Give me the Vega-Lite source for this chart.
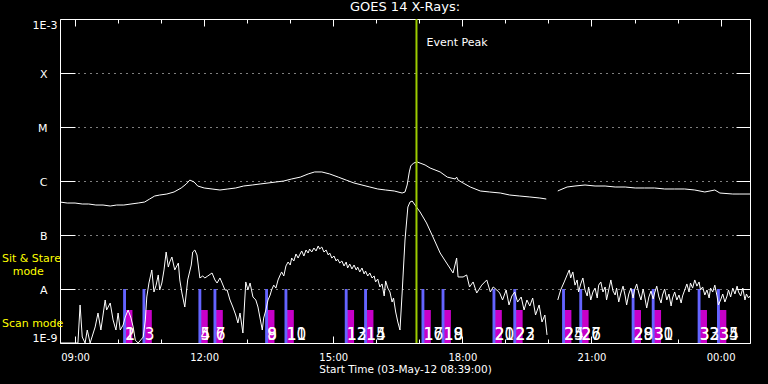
{
"$schema": "https://vega.github.io/schema/vega-lite/v6.json",
"width": 690, "height": 324,
"autosize": "none",
"padding": {"left": 60, "top": 19, "right": 18, "bottom": 41},
"background": "black",
"title": {"text": "GOES 14 X-Rays:", "color": "white", "fontSize": 13, "fontWeight": "normal", "font": "DejaVu Sans", "offset": 4, "anchor": "middle", "frame": "group"},
"config": {"view": {"stroke": null}, "axis": {"domainColor": "white", "tickColor": "white", "labelColor": "white", "titleColor": "white", "gridColor": "white", "labelFont": "DejaVu Sans", "titleFont": "DejaVu Sans", "titleFontWeight": "normal", "domainWidth": 1, "tickWidth": 1}},
"datasets": {
"long": [
{"t":"2012-05-03T08:39Z","f":4.08e-7},{"t":"2012-05-03T08:49Z","f":3.91e-7},{"t":"2012-05-03T09:00Z","f":3.91e-7},{"t":"2012-05-03T09:10Z","f":3.75e-7},{"t":"2012-05-03T09:19Z","f":3.75e-7},{"t":"2012-05-03T09:29Z","f":3.59e-7},{"t":"2012-05-03T09:39Z","f":3.59e-7},{"t":"2012-05-03T09:49Z","f":3.44e-7},{"t":"2012-05-03T09:58Z","f":3.59e-7},{"t":"2012-05-03T10:08Z","f":3.59e-7},{"t":"2012-05-03T10:18Z","f":3.75e-7},{"t":"2012-05-03T10:28Z","f":3.91e-7},{"t":"2012-05-03T10:37Z","f":4.08e-7},{"t":"2012-05-03T10:44Z","f":4.64e-7},{"t":"2012-05-03T10:51Z","f":5.27e-7},{"t":"2012-05-03T10:58Z","f":5.50e-7},{"t":"2012-05-03T11:08Z","f":5.74e-7},{"t":"2012-05-03T11:18Z","f":6.26e-7},{"t":"2012-05-03T11:28Z","f":7.42e-7},{"t":"2012-05-03T11:35Z","f":8.80e-7},{"t":"2012-05-03T11:40Z","f":1.04e-6},{"t":"2012-05-03T11:46Z","f":9.58e-7},{"t":"2012-05-03T11:51Z","f":8.08e-7},{"t":"2012-05-03T12:00Z","f":7.42e-7},{"t":"2012-05-03T12:11Z","f":7.11e-7},{"t":"2012-05-03T12:22Z","f":6.81e-7},{"t":"2012-05-03T12:33Z","f":7.11e-7},{"t":"2012-05-03T12:44Z","f":7.42e-7},{"t":"2012-05-03T12:55Z","f":8.08e-7},{"t":"2012-05-03T13:07Z","f":8.43e-7},{"t":"2012-05-03T13:18Z","f":8.80e-7},{"t":"2012-05-03T13:29Z","f":9.18e-7},{"t":"2012-05-03T13:40Z","f":9.58e-7},{"t":"2012-05-03T13:51Z","f":1.0e-6},{"t":"2012-05-03T14:02Z","f":1.09e-6},{"t":"2012-05-03T14:14Z","f":1.18e-6},{"t":"2012-05-03T14:25Z","f":1.35e-6},{"t":"2012-05-03T14:34Z","f":1.47e-6},{"t":"2012-05-03T14:44Z","f":1.47e-6},{"t":"2012-05-03T14:55Z","f":1.35e-6},{"t":"2012-05-03T15:07Z","f":1.18e-6},{"t":"2012-05-03T15:18Z","f":1.04e-6},{"t":"2012-05-03T15:29Z","f":9.18e-7},{"t":"2012-05-03T15:40Z","f":8.43e-7},{"t":"2012-05-03T15:51Z","f":7.74e-7},{"t":"2012-05-03T16:02Z","f":7.11e-7},{"t":"2012-05-03T16:13Z","f":6.81e-7},{"t":"2012-05-03T16:25Z","f":6.53e-7},{"t":"2012-05-03T16:36Z","f":5.99e-7},{"t":"2012-05-03T16:40Z","f":6.26e-7},{"t":"2012-05-03T16:43Z","f":8.43e-7},{"t":"2012-05-03T16:46Z","f":1.47e-6},{"t":"2012-05-03T16:48Z","f":1.90e-6},{"t":"2012-05-03T16:52Z","f":2.15e-6},{"t":"2012-05-03T16:57Z","f":2.25e-6},{"t":"2012-05-03T17:01Z","f":2.15e-6},{"t":"2012-05-03T17:08Z","f":1.98e-6},{"t":"2012-05-03T17:15Z","f":1.74e-6},{"t":"2012-05-03T17:29Z","f":1.47e-6},{"t":"2012-05-03T17:39Z","f":1.18e-6},{"t":"2012-05-03T17:50Z","f":1.09e-6},{"t":"2012-05-03T17:52Z","f":1.18e-6},{"t":"2012-05-03T17:54Z","f":1.04e-6},{"t":"2012-05-03T18:01Z","f":9.18e-7},{"t":"2012-05-03T18:11Z","f":7.74e-7},{"t":"2012-05-03T18:25Z","f":6.53e-7},{"t":"2012-05-03T18:38Z","f":6.26e-7},{"t":"2012-05-03T18:53Z","f":5.99e-7},{"t":"2012-05-03T19:06Z","f":5.50e-7},{"t":"2012-05-03T19:20Z","f":5.27e-7},{"t":"2012-05-03T19:34Z","f":5.06e-7},{"t":"2012-05-03T19:48Z","f":4.84e-7},{"t":"2012-05-03T19:57Z","f":4.64e-7},{"t":"2012-05-03T20:05Z","f":null},{"t":"2012-05-03T20:13Z","f":6.53e-7},{"t":"2012-05-03T20:16Z","f":6.81e-7},{"t":"2012-05-03T20:26Z","f":7.74e-7},{"t":"2012-05-03T20:37Z","f":8.08e-7},{"t":"2012-05-03T20:51Z","f":8.43e-7},{"t":"2012-05-03T21:05Z","f":8.08e-7},{"t":"2012-05-03T21:19Z","f":8.08e-7},{"t":"2012-05-03T21:33Z","f":7.74e-7},{"t":"2012-05-03T21:47Z","f":7.74e-7},{"t":"2012-05-03T22:01Z","f":7.42e-7},{"t":"2012-05-03T22:14Z","f":7.42e-7},{"t":"2012-05-03T22:28Z","f":7.42e-7},{"t":"2012-05-03T22:42Z","f":7.11e-7},{"t":"2012-05-03T22:56Z","f":7.11e-7},{"t":"2012-05-03T23:10Z","f":7.11e-7},{"t":"2012-05-03T23:24Z","f":6.81e-7},{"t":"2012-05-03T23:38Z","f":6.26e-7},{"t":"2012-05-03T23:52Z","f":6.81e-7},{"t":"2012-05-03T23:59Z","f":5.99e-7},{"t":"2012-05-04T00:17Z","f":5.74e-7},{"t":"2012-05-04T00:27Z","f":5.74e-7},{"t":"2012-05-04T00:41Z","f":5.74e-7}
],
"short": [
{"t":"2012-05-03T08:39Z","f":1e-9},{"t":"2012-05-03T09:00Z","f":1e-9},{"t":"2012-05-03T09:04Z","f":1e-9},{"t":"2012-05-03T09:07Z","f":5.06e-9},{"t":"2012-05-03T09:10Z","f":1.29e-9},{"t":"2012-05-03T09:14Z","f":1e-9},{"t":"2012-05-03T09:17Z","f":1.74e-9},{"t":"2012-05-03T09:21Z","f":1e-9},{"t":"2012-05-03T09:28Z","f":1.98e-9},{"t":"2012-05-03T09:32Z","f":3.59e-9},{"t":"2012-05-03T09:36Z","f":1.74e-9},{"t":"2012-05-03T09:42Z","f":6.26e-9},{"t":"2012-05-03T09:44Z","f":4.08e-9},{"t":"2012-05-03T09:49Z","f":5.50e-9},{"t":"2012-05-03T09:53Z","f":2.67e-9},{"t":"2012-05-03T09:57Z","f":1.74e-9},{"t":"2012-05-03T10:00Z","f":3.59e-9},{"t":"2012-05-03T10:03Z","f":1.74e-9},{"t":"2012-05-03T10:07Z","f":2.15e-9},{"t":"2012-05-03T10:10Z","f":3.03e-9},{"t":"2012-05-03T10:14Z","f":4.08e-9},{"t":"2012-05-03T10:18Z","f":2.90e-9},{"t":"2012-05-03T10:21Z","f":1.98e-9},{"t":"2012-05-03T10:24Z","f":1.13e-9},{"t":"2012-05-03T10:28Z","f":1e-9},{"t":"2012-05-03T10:35Z","f":1.29e-9},{"t":"2012-05-03T10:38Z","f":2.67e-9},{"t":"2012-05-03T10:40Z","f":7.11e-9},{"t":"2012-05-03T10:43Z","f":1.29e-8},{"t":"2012-05-03T10:47Z","f":2.25e-8},{"t":"2012-05-03T10:50Z","f":8.80e-9},{"t":"2012-05-03T10:53Z","f":1.18e-8},{"t":"2012-05-03T10:56Z","f":1.82e-8},{"t":"2012-05-03T10:58Z","f":9.58e-9},{"t":"2012-05-03T11:01Z","f":1.29e-8},{"t":"2012-05-03T11:04Z","f":2.25e-8},{"t":"2012-05-03T11:07Z","f":4.84e-8},{"t":"2012-05-03T11:10Z","f":2.55e-8},{"t":"2012-05-03T11:12Z","f":3.16e-8},{"t":"2012-05-03T11:15Z","f":3.91e-8},{"t":"2012-05-03T11:19Z","f":2.25e-8},{"t":"2012-05-03T11:24Z","f":3.03e-8},{"t":"2012-05-03T11:26Z","f":1.47e-8},{"t":"2012-05-03T11:29Z","f":8.43e-9},{"t":"2012-05-03T11:33Z","f":4.64e-9},{"t":"2012-05-03T11:37Z","f":1.47e-8},{"t":"2012-05-03T11:42Z","f":2.78e-8},{"t":"2012-05-03T11:44Z","f":4.84e-8},{"t":"2012-05-03T11:47Z","f":5.27e-8},{"t":"2012-05-03T11:50Z","f":4.26e-8},{"t":"2012-05-03T11:54Z","f":1.60e-8},{"t":"2012-05-03T11:58Z","f":1.74e-8},{"t":"2012-05-03T12:01Z","f":1.60e-8},{"t":"2012-05-03T12:05Z","f":1.74e-8},{"t":"2012-05-03T12:11Z","f":1.98e-8},{"t":"2012-05-03T12:15Z","f":1.47e-8},{"t":"2012-05-03T12:18Z","f":1.29e-8},{"t":"2012-05-03T12:22Z","f":1.60e-8},{"t":"2012-05-03T12:25Z","f":1.29e-8},{"t":"2012-05-03T12:29Z","f":9.58e-9},{"t":"2012-05-03T12:32Z","f":9.58e-9},{"t":"2012-05-03T12:36Z","f":6.26e-9},{"t":"2012-05-03T12:40Z","f":4.64e-9},{"t":"2012-05-03T12:44Z","f":3.30e-9},{"t":"2012-05-03T12:47Z","f":2.35e-9},{"t":"2012-05-03T12:50Z","f":3.59e-9},{"t":"2012-05-03T12:54Z","f":1.53e-9},{"t":"2012-05-03T12:58Z","f":1.35e-8},{"t":"2012-05-03T13:01Z","f":9.58e-9},{"t":"2012-05-03T13:04Z","f":1.29e-8},{"t":"2012-05-03T13:08Z","f":7.11e-9},{"t":"2012-05-03T13:12Z","f":6.26e-9},{"t":"2012-05-03T13:15Z","f":4.64e-9},
{"t":"2012-05-03T13:21Z","f":1.74e-9},{"t":"2012-05-03T13:23Z","f":2.90e-9},{"t":"2012-05-03T13:26Z","f":4.08e-9},{"t":"2012-05-03T13:29Z","f":6.26e-9},{"t":"2012-05-03T13:32Z","f":7.74e-9},{"t":"2012-05-03T13:34Z","f":9.58e-9},{"t":"2012-05-03T13:37Z","f":1.18e-8},{"t":"2012-05-03T13:40Z","f":1.04e-8},{"t":"2012-05-03T13:43Z","f":1.47e-8},{"t":"2012-05-03T13:46Z","f":1.82e-8},{"t":"2012-05-03T13:48Z","f":2.07e-8},{"t":"2012-05-03T13:51Z","f":1.74e-8},{"t":"2012-05-03T13:54Z","f":2.67e-8},{"t":"2012-05-03T13:57Z","f":3.16e-8},{"t":"2012-05-03T14:00Z","f":2.78e-8},{"t":"2012-05-03T14:02Z","f":3.75e-8},{"t":"2012-05-03T14:05Z","f":3.30e-8},{"t":"2012-05-03T14:08Z","f":4.45e-8},{"t":"2012-05-03T14:11Z","f":3.75e-8},{"t":"2012-05-03T14:13Z","f":4.26e-8},{"t":"2012-05-03T14:16Z","f":5.06e-8},{"t":"2012-05-03T14:19Z","f":4.08e-8},{"t":"2012-05-03T14:22Z","f":5.27e-8},{"t":"2012-05-03T14:25Z","f":4.64e-8},{"t":"2012-05-03T14:27Z","f":5.50e-8},{"t":"2012-05-03T14:30Z","f":4.84e-8},{"t":"2012-05-03T14:33Z","f":5.74e-8},{"t":"2012-05-03T14:36Z","f":5.06e-8},{"t":"2012-05-03T14:39Z","f":6.26e-8},{"t":"2012-05-03T14:41Z","f":5.50e-8},{"t":"2012-05-03T14:44Z","f":5.99e-8},{"t":"2012-05-03T14:47Z","f":4.84e-8},{"t":"2012-05-03T14:50Z","f":5.27e-8},{"t":"2012-05-03T14:53Z","f":4.26e-8},{"t":"2012-05-03T14:55Z","f":4.64e-8},{"t":"2012-05-03T14:58Z","f":3.75e-8},{"t":"2012-05-03T15:01Z","f":4.08e-8},{"t":"2012-05-03T15:04Z","f":3.30e-8},{"t":"2012-05-03T15:06Z","f":3.59e-8},{"t":"2012-05-03T15:09Z","f":3.03e-8},{"t":"2012-05-03T15:12Z","f":3.30e-8},{"t":"2012-05-03T15:15Z","f":2.67e-8},{"t":"2012-05-03T15:18Z","f":3.16e-8},{"t":"2012-05-03T15:20Z","f":2.45e-8},{"t":"2012-05-03T15:23Z","f":2.90e-8},{"t":"2012-05-03T15:26Z","f":2.35e-8},{"t":"2012-05-03T15:29Z","f":2.78e-8},{"t":"2012-05-03T15:32Z","f":2.25e-8},{"t":"2012-05-03T15:34Z","f":2.55e-8},{"t":"2012-05-03T15:37Z","f":2.07e-8},{"t":"2012-05-03T15:40Z","f":2.45e-8},{"t":"2012-05-03T15:43Z","f":1.90e-8},{"t":"2012-05-03T15:45Z","f":2.15e-8},{"t":"2012-05-03T15:48Z","f":1.74e-8},{"t":"2012-05-03T15:51Z","f":1.98e-8},{"t":"2012-05-03T15:54Z","f":1.60e-8},{"t":"2012-05-03T15:57Z","f":1.74e-8},{"t":"2012-05-03T15:59Z","f":1.35e-8},{"t":"2012-05-03T16:02Z","f":1.53e-8},{"t":"2012-05-03T16:05Z","f":1.09e-8},{"t":"2012-05-03T16:08Z","f":1.24e-8},{"t":"2012-05-03T16:11Z","f":7.42e-9},{"t":"2012-05-03T16:13Z","f":1.41e-8},{"t":"2012-05-03T16:16Z","f":1.04e-8},{"t":"2012-05-03T16:19Z","f":8.80e-9},{"t":"2012-05-03T16:22Z","f":5.74e-9},{"t":"2012-05-03T16:24Z","f":6.81e-9},{"t":"2012-05-03T16:27Z","f":3.75e-9},{"t":"2012-05-03T16:30Z","f":2.45e-9},{"t":"2012-05-03T16:33Z","f":1.74e-9},
{"t":"2012-05-03T16:36Z","f":8.43e-9},{"t":"2012-05-03T16:40Z","f":8.08e-8},{"t":"2012-05-03T16:44Z","f":3.30e-7},{"t":"2012-05-03T16:47Z","f":4.08e-7},{"t":"2012-05-03T16:50Z","f":4.26e-7},{"t":"2012-05-03T16:54Z","f":3.59e-7},{"t":"2012-05-03T17:01Z","f":2.67e-7},{"t":"2012-05-03T17:10Z","f":1.67e-7},{"t":"2012-05-03T17:19Z","f":9.18e-8},{"t":"2012-05-03T17:29Z","f":4.64e-8},{"t":"2012-05-03T17:38Z","f":3.03e-8},{"t":"2012-05-03T17:47Z","f":1.98e-8},{"t":"2012-05-03T17:52Z","f":3.75e-8},{"t":"2012-05-03T17:54Z","f":1.67e-8},{"t":"2012-05-03T18:01Z","f":1.67e-8},{"t":"2012-05-03T18:06Z","f":1.82e-8},{"t":"2012-05-03T18:10Z","f":1.09e-8},{"t":"2012-05-03T18:15Z","f":1.35e-8},{"t":"2012-05-03T18:20Z","f":8.43e-9},{"t":"2012-05-03T18:27Z","f":1.18e-8},{"t":"2012-05-03T18:34Z","f":1.47e-8},{"t":"2012-05-03T18:39Z","f":8.80e-9},{"t":"2012-05-03T18:43Z","f":1.09e-8},{"t":"2012-05-03T18:48Z","f":9.58e-9},
{"t":"2012-05-03T18:52Z","f":8.43e-9},{"t":"2012-05-03T18:56Z","f":6.26e-9},{"t":"2012-05-03T19:01Z","f":9.58e-9},{"t":"2012-05-03T19:05Z","f":5.06e-9},{"t":"2012-05-03T19:09Z","f":7.42e-9},{"t":"2012-05-03T19:13Z","f":8.80e-9},{"t":"2012-05-03T19:17Z","f":5.74e-9},{"t":"2012-05-03T19:22Z","f":7.11e-9},{"t":"2012-05-03T19:26Z","f":4.08e-9},{"t":"2012-05-03T19:30Z","f":6.26e-9},{"t":"2012-05-03T19:34Z","f":4.84e-9},{"t":"2012-05-03T19:38Z","f":6.81e-9},{"t":"2012-05-03T19:42Z","f":3.30e-9},{"t":"2012-05-03T19:47Z","f":5.06e-9},{"t":"2012-05-03T19:51Z","f":2.45e-9},{"t":"2012-05-03T19:55Z","f":3.30e-9},{"t":"2012-05-03T19:58Z","f":1.41e-9},{"t":"2012-05-03T20:05Z","f":null},
{"t":"2012-05-03T20:13Z","f":6.26e-9},{"t":"2012-05-03T20:17Z","f":9.58e-9},{"t":"2012-05-03T20:22Z","f":1.35e-8},{"t":"2012-05-03T20:26Z","f":1.82e-8},{"t":"2012-05-03T20:29Z","f":2.25e-8},{"t":"2012-05-03T20:31Z","f":1.60e-8},{"t":"2012-05-03T20:34Z","f":2.07e-8},{"t":"2012-05-03T20:37Z","f":1.18e-8},{"t":"2012-05-03T20:40Z","f":1.47e-8},{"t":"2012-05-03T20:42Z","f":8.80e-9},{"t":"2012-05-03T20:45Z","f":1.24e-8},{"t":"2012-05-03T20:48Z","f":1.60e-8},{"t":"2012-05-03T20:51Z","f":9.58e-9},{"t":"2012-05-03T20:54Z","f":7.42e-9},{"t":"2012-05-03T20:56Z","f":1.09e-8},{"t":"2012-05-03T20:59Z","f":6.26e-9},{"t":"2012-05-03T21:02Z","f":8.80e-9},{"t":"2012-05-03T21:05Z","f":1.04e-8},{"t":"2012-05-03T21:08Z","f":6.81e-9},{"t":"2012-05-03T21:10Z","f":1.18e-8},{"t":"2012-05-03T21:13Z","f":1.35e-8},{"t":"2012-05-03T21:16Z","f":8.80e-9},{"t":"2012-05-03T21:19Z","f":1.09e-8},{"t":"2012-05-03T21:21Z","f":6.26e-9},{"t":"2012-05-03T21:24Z","f":9.58e-9},{"t":"2012-05-03T21:27Z","f":1.47e-8},{"t":"2012-05-03T21:30Z","f":9.18e-9},{"t":"2012-05-03T21:33Z","f":7.74e-9},{"t":"2012-05-03T21:35Z","f":1.04e-8},{"t":"2012-05-03T21:38Z","f":5.74e-9},{"t":"2012-05-03T21:41Z","f":8.43e-9},{"t":"2012-05-03T21:44Z","f":1.13e-8},{"t":"2012-05-03T21:47Z","f":7.42e-9},{"t":"2012-05-03T21:49Z","f":5.06e-9},{"t":"2012-05-03T21:52Z","f":8.08e-9},{"t":"2012-05-03T21:55Z","f":1.04e-8},{"t":"2012-05-03T21:58Z","f":6.81e-9},{"t":"2012-05-03T22:00Z","f":9.58e-9},{"t":"2012-05-03T22:03Z","f":1.24e-8},{"t":"2012-05-03T22:06Z","f":8.43e-9},{"t":"2012-05-03T22:09Z","f":6.26e-9},{"t":"2012-05-03T22:12Z","f":1.0e-8},{"t":"2012-05-03T22:14Z","f":7.42e-9},{"t":"2012-05-03T22:17Z","f":4.45e-9},{"t":"2012-05-03T22:20Z","f":7.11e-9},{"t":"2012-05-03T22:23Z","f":9.18e-9},{"t":"2012-05-03T22:26Z","f":6.53e-9},{"t":"2012-05-03T22:28Z","f":8.43e-9},{"t":"2012-05-03T22:31Z","f":1.13e-8},{"t":"2012-05-03T22:34Z","f":7.11e-9},{"t":"2012-05-03T22:37Z","f":5.50e-9},{"t":"2012-05-03T22:39Z","f":7.74e-9},{"t":"2012-05-03T22:42Z","f":1.0e-8},{"t":"2012-05-03T22:45Z","f":6.26e-9},{"t":"2012-05-03T22:48Z","f":8.08e-9},{"t":"2012-05-03T22:51Z","f":4.84e-9},{"t":"2012-05-03T22:53Z","f":6.81e-9},{"t":"2012-05-03T22:56Z","f":8.80e-9},{"t":"2012-05-03T22:59Z","f":6.26e-9},{"t":"2012-05-03T23:02Z","f":7.74e-9},{"t":"2012-05-03T23:05Z","f":5.50e-9},{"t":"2012-05-03T23:07Z","f":7.42e-9},{"t":"2012-05-03T23:10Z","f":9.58e-9},{"t":"2012-05-03T23:13Z","f":1.24e-8},{"t":"2012-05-03T23:16Z","f":8.80e-9},{"t":"2012-05-03T23:18Z","f":1.29e-8},{"t":"2012-05-03T23:21Z","f":1.04e-8},{"t":"2012-05-03T23:24Z","f":1.47e-8},{"t":"2012-05-03T23:27Z","f":1.13e-8},{"t":"2012-05-03T23:30Z","f":1.35e-8},{"t":"2012-05-03T23:32Z","f":9.58e-9},{"t":"2012-05-03T23:35Z","f":1.09e-8},{"t":"2012-05-03T23:38Z","f":7.74e-9},{"t":"2012-05-03T23:41Z","f":9.58e-9},{"t":"2012-05-03T23:44Z","f":6.81e-9},{"t":"2012-05-03T23:46Z","f":1.04e-8},{"t":"2012-05-03T23:49Z","f":8.80e-9},{"t":"2012-05-03T23:52Z","f":1.18e-8},{"t":"2012-05-03T23:55Z","f":7.42e-9},{"t":"2012-05-03T23:57Z","f":5.06e-9},{"t":"2012-05-04T00:00Z","f":6.26e-9},{"t":"2012-05-04T00:03Z","f":8.08e-9},{"t":"2012-05-04T00:06Z","f":5.74e-9},{"t":"2012-05-04T00:09Z","f":7.42e-9},{"t":"2012-05-04T00:11Z","f":9.58e-9},{"t":"2012-05-04T00:14Z","f":7.11e-9},{"t":"2012-05-04T00:17Z","f":1.04e-8},{"t":"2012-05-04T00:20Z","f":8.08e-9},{"t":"2012-05-04T00:23Z","f":1.13e-8},{"t":"2012-05-04T00:25Z","f":8.80e-9},{"t":"2012-05-04T00:28Z","f":7.42e-9},{"t":"2012-05-04T00:31Z","f":1.04e-8},{"t":"2012-05-04T00:34Z","f":6.26e-9},{"t":"2012-05-04T00:36Z","f":8.08e-9},{"t":"2012-05-04T00:39Z","f":6.81e-9},{"t":"2012-05-04T00:41Z","f":7.42e-9}
],
"obs": [
{"mode":"Sit & Stare","s":"2012-05-03T10:07Z","e":"2012-05-03T10:11Z"},{"mode":"Scan","s":"2012-05-03T10:09Z","e":"2012-05-03T10:20Z"},
{"mode":"Sit & Stare","s":"2012-05-03T10:34Z","e":"2012-05-03T10:38Z"},{"mode":"Scan","s":"2012-05-03T10:36Z","e":"2012-05-03T10:47Z"},
{"mode":"Sit & Stare","s":"2012-05-03T11:52Z","e":"2012-05-03T11:56Z"},{"mode":"Scan","s":"2012-05-03T11:54Z","e":"2012-05-03T12:05Z"},
{"mode":"Sit & Stare","s":"2012-05-03T12:13Z","e":"2012-05-03T12:17Z"},{"mode":"Scan","s":"2012-05-03T12:15Z","e":"2012-05-03T12:26Z"},
{"mode":"Sit & Stare","s":"2012-05-03T13:25Z","e":"2012-05-03T13:29Z"},{"mode":"Scan","s":"2012-05-03T13:27Z","e":"2012-05-03T13:38Z"},
{"mode":"Sit & Stare","s":"2012-05-03T13:52Z","e":"2012-05-03T13:56Z"},{"mode":"Scan","s":"2012-05-03T13:54Z","e":"2012-05-03T14:05Z"},
{"mode":"Sit & Stare","s":"2012-05-03T15:16Z","e":"2012-05-03T15:20Z"},{"mode":"Scan","s":"2012-05-03T15:18Z","e":"2012-05-03T15:29Z"},
{"mode":"Sit & Stare","s":"2012-05-03T15:43Z","e":"2012-05-03T15:47Z"},{"mode":"Scan","s":"2012-05-03T15:45Z","e":"2012-05-03T15:56Z"},
{"mode":"Sit & Stare","s":"2012-05-03T17:03Z","e":"2012-05-03T17:07Z"},{"mode":"Scan","s":"2012-05-03T17:05Z","e":"2012-05-03T17:16Z"},
{"mode":"Sit & Stare","s":"2012-05-03T17:31Z","e":"2012-05-03T17:35Z"},{"mode":"Scan","s":"2012-05-03T17:33Z","e":"2012-05-03T17:44Z"},
{"mode":"Sit & Stare","s":"2012-05-03T18:42Z","e":"2012-05-03T18:46Z"},{"mode":"Scan","s":"2012-05-03T18:44Z","e":"2012-05-03T18:55Z"},
{"mode":"Sit & Stare","s":"2012-05-03T19:11Z","e":"2012-05-03T19:15Z"},{"mode":"Scan","s":"2012-05-03T19:13Z","e":"2012-05-03T19:24Z"},
{"mode":"Sit & Stare","s":"2012-05-03T20:19Z","e":"2012-05-03T20:23Z"},{"mode":"Scan","s":"2012-05-03T20:21Z","e":"2012-05-03T20:32Z"},
{"mode":"Sit & Stare","s":"2012-05-03T20:43Z","e":"2012-05-03T20:47Z"},{"mode":"Scan","s":"2012-05-03T20:45Z","e":"2012-05-03T20:56Z"},
{"mode":"Sit & Stare","s":"2012-05-03T21:56Z","e":"2012-05-03T22:00Z"},{"mode":"Scan","s":"2012-05-03T21:58Z","e":"2012-05-03T22:09Z"},
{"mode":"Sit & Stare","s":"2012-05-03T22:24Z","e":"2012-05-03T22:28Z"},{"mode":"Scan","s":"2012-05-03T22:26Z","e":"2012-05-03T22:37Z"},
{"mode":"Sit & Stare","s":"2012-05-03T23:28Z","e":"2012-05-03T23:32Z"},{"mode":"Scan","s":"2012-05-03T23:30Z","e":"2012-05-03T23:41Z"},
{"mode":"Sit & Stare","s":"2012-05-03T23:55Z","e":"2012-05-03T23:59Z"},{"mode":"Scan","s":"2012-05-03T23:57Z","e":"2012-05-04T00:08Z"}
],
"nums": [
{"n":"1","t":"2012-05-03T10:10Z"},{"n":"2","t":"2012-05-03T10:10Z"},{"n":"3","t":"2012-05-03T10:37Z"},
{"n":"4","t":"2012-05-03T11:55Z"},{"n":"5","t":"2012-05-03T11:55Z"},{"n":"6","t":"2012-05-03T12:16Z"},{"n":"7","t":"2012-05-03T12:16Z"},
{"n":"8","t":"2012-05-03T13:28Z"},{"n":"9","t":"2012-05-03T13:28Z"},{"n":"10","t":"2012-05-03T13:55Z"},{"n":"11","t":"2012-05-03T13:55Z"},
{"n":"12","t":"2012-05-03T15:19Z"},{"n":"13","t":"2012-05-03T15:19Z"},{"n":"14","t":"2012-05-03T15:46Z"},{"n":"15","t":"2012-05-03T15:46Z"},
{"n":"16","t":"2012-05-03T17:06Z"},{"n":"17","t":"2012-05-03T17:06Z"},{"n":"18","t":"2012-05-03T17:34Z"},{"n":"19","t":"2012-05-03T17:34Z"},
{"n":"20","t":"2012-05-03T18:45Z"},{"n":"21","t":"2012-05-03T18:45Z"},{"n":"22","t":"2012-05-03T19:14Z"},{"n":"23","t":"2012-05-03T19:14Z"},
{"n":"24","t":"2012-05-03T20:22Z"},{"n":"25","t":"2012-05-03T20:22Z"},{"n":"26","t":"2012-05-03T20:46Z"},{"n":"27","t":"2012-05-03T20:46Z"},
{"n":"28","t":"2012-05-03T21:59Z"},{"n":"29","t":"2012-05-03T21:59Z"},{"n":"30","t":"2012-05-03T22:27Z"},{"n":"31","t":"2012-05-03T22:27Z"},
{"n":"32","t":"2012-05-03T23:31Z"},{"n":"33","t":"2012-05-03T23:31Z"},{"n":"34","t":"2012-05-03T23:58Z"},{"n":"35","t":"2012-05-03T23:58Z"}
],
"event": [{"label":"Event Peak","t":"2012-05-03T16:56Z"}],
"modes": [{"label":"Sit & Stare","t":"2012-05-03T07:18Z","f":3.59e-8},{"label":"mode","t":"2012-05-03T07:33Z","f":2.07e-8},{"label":"Scan mode","t":"2012-05-03T07:18Z","f":2.25e-9}]
},
"resolve": {"axis": {"x": "independent", "y": "independent"}},
"layer": [
{"data": {"name": "obs"}, "transform": [{"filter": "datum.mode == 'Scan'"}],
 "mark": {"type": "rect", "color": "#c800c8"},
 "encoding": {"x": {"field": "s", "type": "temporal",
   "axis": {"orient": "bottom", "values": [1336035600000,1336039200000,1336042800000,1336046400000,1336050000000,1336053600000,1336057200000,1336060800000,1336064400000,1336068000000,1336071600000,1336075200000,1336078800000,1336082400000,1336086000000,1336089600000], "labels": false, "tickSize": -4, "grid": false, "title": null}},
  "x2": {"field": "e"},
  "y": {"datum": 4.08e-9, "type": "quantitative", "axis": null}, "y2": {"datum": 1e-9}}},
{"data": {"name": "obs"}, "transform": [{"filter": "datum.mode == 'Sit & Stare'"}],
 "mark": {"type": "rect", "color": "#6464ff"},
 "encoding": {"x": {"field": "s", "type": "temporal",
   "axis": {"orient": "top", "values": [1336035600000,1336039200000,1336042800000,1336046400000,1336050000000,1336053600000,1336057200000,1336060800000,1336064400000,1336068000000,1336071600000,1336075200000,1336078800000,1336082400000,1336086000000,1336089600000], "labels": false, "tickSize": -4, "grid": false, "title": null}},
  "x2": {"field": "e"},
  "y": {"datum": 1e-8, "type": "quantitative", "axis": null}, "y2": {"datum": 1e-9}}},
{"data": {"name": "long"},
 "mark": {"type": "line", "color": "white", "strokeWidth": 1, "invalid": "break-paths-filter-domains"},
 "encoding": {
  "x": {"field": "t", "type": "temporal", "scale": {"type": "utc", "domain": [1336034340000, 1336092060000]},
   "axis": {"orient": "top", "values": [1336035600000,1336046400000,1336057200000,1336068000000,1336078800000,1336089600000], "labels": false, "tickSize": -7, "grid": false, "title": null}},
  "y": {"field": "f", "type": "quantitative", "scale": {"type": "log", "domain": [1e-9, 1e-3]},
   "axis": {"orient": "right", "values": [1e-8, 1e-7, 1e-6, 1e-5, 1e-4], "labels": false, "tickSize": -14, "grid": false, "title": null}}}},
{"data": {"name": "short"},
 "mark": {"type": "line", "color": "white", "strokeWidth": 1, "clip": true, "invalid": "break-paths-filter-domains"},
 "encoding": {
  "x": {"field": "t", "type": "temporal",
   "axis": {"orient": "bottom", "values": [1336035600000,1336046400000,1336057200000,1336068000000,1336078800000,1336089600000], "labelExpr": "utcFormat(datum.value, '%H:%M')", "tickSize": -7, "labelPadding": 16, "labelFontSize": 10, "labelOverlap": false, "labelFlush": false, "labelBound": false, "grid": false, "title": "Start Time (03-May-12 08:39:00)", "titleFontSize": 10.5, "titlePadding": 2}},
  "y": {"field": "f", "type": "quantitative",
   "axis": {"orient": "left", "values": [1e-9, 1e-3], "labelExpr": "datum.value < 1e-6 ? '1E-9' : '1E-3'", "tickSize": 0, "labelPadding": 3, "labelFontSize": 11, "labelFlush": true, "labelOverlap": false, "grid": false, "title": null}}}},
{"data": {"name": "event"},
 "mark": {"type": "rule", "color": "#9ccc00", "strokeWidth": 2},
 "encoding": {"x": {"field": "t", "type": "temporal", "axis": null}}},
{"data": {"name": "event"},
 "mark": {"type": "text", "color": "white", "align": "left", "baseline": "middle", "dx": 10, "fontSize": 11, "font": "DejaVu Sans"},
 "encoding": {"x": {"field": "t", "type": "temporal", "axis": null}, "y": {"datum": 3.6e-4, "type": "quantitative", "axis": null}, "text": {"field": "label"}}},
{"data": {"name": "nums"},
 "mark": {"type": "text", "color": "white", "align": "left", "baseline": "alphabetic", "fontSize": 17, "font": "Liberation Sans Narrow, DejaVu Sans Condensed, sans-serif"},
 "encoding": {"x": {"field": "t", "type": "temporal", "axis": null}, "y": {"datum": 1.14e-9, "type": "quantitative", "axis": null}, "text": {"field": "n"}}},
{"data": {"name": "modes"},
 "mark": {"type": "text", "color": "#ffff00", "align": "left", "baseline": "middle", "fontSize": 11, "font": "DejaVu Sans"},
 "encoding": {"x": {"field": "t", "type": "temporal", "axis": null},
  "y": {"field": "f", "type": "quantitative",
   "axis": {"orient": "left", "values": [1e-8, 1e-7, 1e-6, 1e-5, 1e-4], "labelExpr": "datum.value < 3e-8 ? 'A' : datum.value < 3e-7 ? 'B' : datum.value < 3e-6 ? 'C' : datum.value < 3e-5 ? 'M' : 'X'", "tickSize": -15, "labelPadding": 28, "labelFontSize": 11, "labelOffset": 1, "labelOverlap": false, "grid": true, "gridDash": [1, 5], "domain": false, "title": null}},
  "text": {"field": "label"}}}
]
}
